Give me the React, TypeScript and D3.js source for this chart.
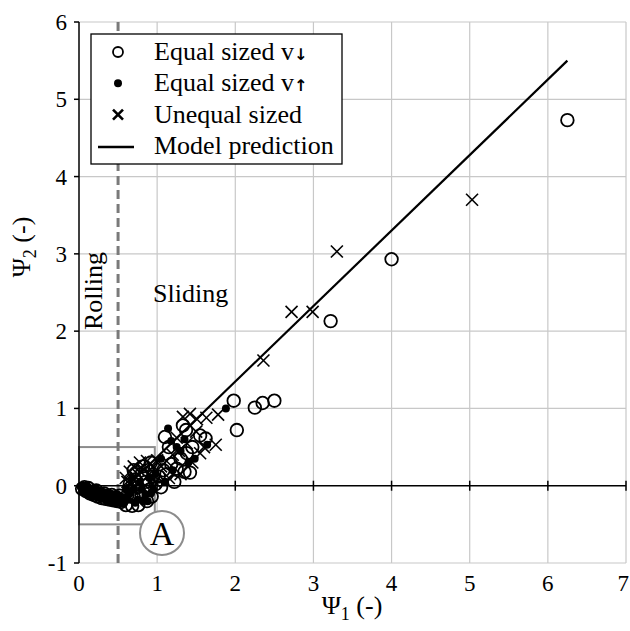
import React from "react";
import * as d3 from "d3";

const xTicks = [0, 1, 2, 3, 4, 5, 6, 7];
const yTicks = [-1, 0, 1, 2, 3, 4, 5, 6];

// Equal sized v↓ (open circles)
const equalDown: [number, number][] = [
  [6.25, 4.73], [4.0, 2.93], [3.22, 2.13], [1.98, 1.1], [2.25, 1.01], [2.35, 1.07], [2.5, 1.1], [2.02, 0.72],
  [1.02, 0.12], [1.08, 0.2], [1.12, 0.15], [1.18, 0.28], [1.25, 0.22], [1.3, 0.35], [1.35, 0.18], [1.42, 0.17],
  [1.38, 0.42], [1.45, 0.5], [1.1, 0.63], [1.15, 0.5], [1.33, 0.78], [1.37, 0.72], [1.55, 0.65], [1.62, 0.61],
  [1.22, 0.05], [1.05, -0.02],
  [0.6, -0.25], [0.68, -0.26], [0.76, -0.25], [0.87, -0.2], [0.93, -0.14], [0.62, -0.12], [0.7, -0.15], [0.8, -0.12],
  [0.9, -0.05], [0.65, 0.02], [0.72, 0.08], [0.8, 0.15], [0.88, 0.2], [0.95, 0.12], [0.75, -0.02], [0.85, 0.05],
  [0.98, 0.02], [0.7, 0.2], [0.82, 0.25], [0.92, 0.3],
  [0.04, -0.04], [0.09, -0.07], [0.14, -0.1], [0.19, -0.12], [0.24, -0.14], [0.29, -0.16], [0.34, -0.17],
  [0.39, -0.18], [0.44, -0.19], [0.49, -0.2], [0.54, -0.21], [0.12, -0.03], [0.22, -0.06], [0.32, -0.1],
  [0.42, -0.12], [0.52, -0.13], [0.07, -0.02], [0.17, -0.08], [0.27, -0.11], [0.37, -0.13], [0.47, -0.15],
];

// Equal sized v↑ (filled dots)
const equalUp: [number, number][] = [
  [1.88, 1.0], [1.14, 0.74], [1.18, 0.58], [1.25, 0.5], [1.3, 0.45], [1.4, 0.3], [1.05, 0.35], [1.2, 0.2],
  [1.35, 0.6], [1.64, 0.53], [1.48, 0.35], [1.1, 0.05],
  [0.6, -0.05], [0.65, -0.1], [0.7, -0.05], [0.75, -0.18], [0.8, -0.05], [0.85, -0.12], [0.9, 0.1], [0.95, -0.05],
  [0.68, 0.1], [0.78, 0.05], [0.88, -0.2], [0.98, 0.15], [0.63, -0.18], [0.72, -0.22], [0.82, -0.2], [0.92, -0.1],
  [0.02, -0.01], [0.05, -0.03], [0.08, -0.05], [0.1, -0.04], [0.12, -0.07], [0.15, -0.08], [0.17, -0.06],
  [0.2, -0.1], [0.22, -0.09], [0.25, -0.12], [0.28, -0.11], [0.3, -0.14], [0.33, -0.13], [0.36, -0.15],
  [0.39, -0.14], [0.42, -0.17], [0.45, -0.16], [0.48, -0.18], [0.51, -0.17], [0.54, -0.19], [0.57, -0.15], [0.6, -0.18],
  [0.04, -0.06], [0.11, -0.1], [0.18, -0.13], [0.26, -0.16], [0.34, -0.18], [0.41, -0.2], [0.49, -0.22], [0.56, -0.23],
  [0.07, 0.0], [0.14, -0.04], [0.23, -0.05], [0.31, -0.08], [0.4, -0.1], [0.5, -0.12],
  [0.06, -0.08], [0.13, -0.12], [0.21, -0.14], [0.29, -0.17], [0.37, -0.19], [0.45, -0.21], [0.53, -0.21],
  [0.1, -0.01], [0.19, -0.03], [0.27, -0.07], [0.35, -0.1], [0.44, -0.12], [0.53, -0.14],
];

// Unequal sized (crosses)
const unequal: [number, number][] = [
  [5.03, 3.7], [3.3, 3.03], [2.72, 2.25], [2.99, 2.25], [2.36, 1.62],
  [1.33, 0.89], [1.42, 0.93], [1.51, 0.86], [1.63, 0.88], [1.78, 0.92], [1.75, 0.53], [1.55, 0.42], [1.45, 0.3],
  [1.38, 0.55], [1.28, 0.45], [1.2, 0.4], [1.12, 0.32], [1.05, 0.25], [1.15, 0.1], [1.3, 0.15], [1.6, 0.5],
  [1.25, 0.62], [1.5, 0.7],
  [0.62, 0.05], [0.65, 0.18], [0.7, 0.25], [0.75, 0.15], [0.78, 0.3], [0.83, 0.2], [0.87, 0.32], [0.9, 0.15],
  [0.95, 0.25], [1.0, 0.33], [0.68, -0.05], [0.72, 0.0], [0.85, 0.0], [0.97, 0.05], [0.6, 0.1],
];

// Model prediction line
const model: [number, number][] = [[0.62, 0], [6.25, 5.5]];

const rollingX = 0.5;
const zoomBox = { x0: 0, x1: 0.97, y0: -0.5, y1: 0.5 };

const legendLabels = ["Equal sized v", "Equal sized v", "Unequal sized", "Model prediction"];
const legendArrows = ["↓", "↑", "", ""];

const FONT = "'Liberation Serif', 'Times New Roman', serif";

export default function App() {
  const x = d3.scaleLinear().domain([0, 7]).range([79, 626]);
  const y = d3.scaleLinear().domain([-1, 6]).range([563, 22]);
  const line = d3.line<[number, number]>().x((d) => x(d[0])).y((d) => y(d[1]));
  const grid = "#c8c8c8";
  const cs = 6;

  return (
    <svg width={630} height={631} style={{ position: "absolute", left: 0, top: 0, background: "#fff" }}
      fontFamily={FONT}>
      <rect x={0} y={0} width={630} height={631} fill="#fff" />
      {/* gridlines */}
      {xTicks.filter((t) => t > 0).map((t) => (
        <line key={"gx" + t} x1={x(t)} x2={x(t)} y1={y(6)} y2={y(-1)} stroke={grid} strokeWidth={1.2} />
      ))}
      {yTicks.filter((t) => t !== 0).map((t) => (
        <line key={"gy" + t} x1={x(0)} x2={x(7)} y1={y(t)} y2={y(t)} stroke={grid} strokeWidth={1.2} />
      ))}
      {/* zoom box */}
      <rect x={x(zoomBox.x0)} y={y(zoomBox.y1)} width={x(zoomBox.x1) - x(zoomBox.x0)}
        height={y(zoomBox.y0) - y(zoomBox.y1)} fill="none" stroke="#8c8c8c" strokeWidth={2} />
      {/* rolling/sliding boundary */}
      <line x1={x(rollingX)} x2={x(rollingX)} y1={y(6)} y2={y(-1)} stroke="#7a7a7a" strokeWidth={3}
        strokeDasharray="9,5" />
      {/* x axis at y=0 */}
      <line x1={x(0)} x2={x(7)} y1={y(0)} y2={y(0)} stroke="#000" strokeWidth={1.5} />
      {xTicks.filter((t) => t > 0).map((t) => (
        <line key={"tx" + t} x1={x(t)} x2={x(t)} y1={y(0) - 5} y2={y(0) + 5} stroke="#000" strokeWidth={1.5} />
      ))}
      {/* points */}
      {equalDown.map((d, i) => (
        <circle key={"o" + i} cx={x(d[0])} cy={y(d[1])} r={6.3} fill="none" stroke="#000" strokeWidth={1.8} />
      ))}
      {equalUp.map((d, i) => (
        <circle key={"f" + i} cx={x(d[0])} cy={y(d[1])} r={4} fill="#000" />
      ))}
      {unequal.map((d, i) => (
        <g key={"c" + i} stroke="#000" strokeWidth={1.6}>
          <line x1={x(d[0]) - cs} x2={x(d[0]) + cs} y1={y(d[1]) - cs} y2={y(d[1]) + cs} />
          <line x1={x(d[0]) - cs} x2={x(d[0]) + cs} y1={y(d[1]) + cs} y2={y(d[1]) - cs} />
        </g>
      ))}
      <path d={line(model) || ""} fill="none" stroke="#000" strokeWidth={2.2} />
      {/* y axis */}
      <line x1={x(0)} x2={x(0)} y1={y(6)} y2={y(-1)} stroke="#000" strokeWidth={1.5} />
      {yTicks.map((t) => (
        <g key={"ty" + t}>
          <line x1={x(0) - 5} x2={x(0)} y1={y(t)} y2={y(t)} stroke="#000" strokeWidth={1.5} />
          <text x={x(0) - 12} y={y(t)} dy="0.35em" textAnchor="end" fontSize={23}>{t}</text>
        </g>
      ))}
      {xTicks.map((t, i) => (
        <text key={"lx" + t} x={i === xTicks.length - 1 ? 629 : x(t)} y={y(-1) + 28}
          textAnchor={i === xTicks.length - 1 ? "end" : "middle"} fontSize={23}>{t}</text>
      ))}
      {/* axis titles */}
      <text x={352} y={614} textAnchor="middle" fontSize={26}>
        Ψ<tspan dy={6} fontSize={18}>1</tspan><tspan dy={-6}> (-)</tspan>
      </text>
      <text transform="translate(30,247) rotate(-90)" textAnchor="middle" fontSize={26}>
        Ψ<tspan dy={6} fontSize={18}>2</tspan><tspan dy={-6}> (-)</tspan>
      </text>
      {/* annotations */}
      <text transform={`translate(${x(rollingX) - 16},291) rotate(-90)`} textAnchor="middle" fontSize={26}>Rolling</text>
      <text x={153} y={302} fontSize={26}>Sliding</text>
      <circle cx={162} cy={533} r={22} fill="#fff" stroke="#8c8c8c" strokeWidth={2} />
      <text x={162} y={545} textAnchor="middle" fontSize={34}>A</text>
      {/* legend */}
      <rect x={91} y={34} width={251} height={130} fill="#fff" stroke="#000" strokeWidth={1.3} />
      {legendLabels.map((s, i) => {
        const cy = 51 + i * 31.3;
        return (
          <g key={"lg" + i}>
            {i === 0 && <circle cx={118} cy={cy + 1} r={5} fill="none" stroke="#000" strokeWidth={1.8} />}
            {i === 1 && <circle cx={118} cy={cy + 1} r={4} fill="#000" />}
            {i === 2 && (
              <g stroke="#000" strokeWidth={2.6}>
                <line x1={113} x2={123} y1={cy - 4} y2={cy + 6} />
                <line x1={113} x2={123} y1={cy + 6} y2={cy - 4} />
              </g>
            )}
            {i === 3 && <line x1={98} x2={134} y1={cy + 2} y2={cy + 2} stroke="#000" strokeWidth={2.5} />}
            <text x={154} y={cy + 9} fontSize={26}>
              {s}
              {legendArrows[i] && (
                <tspan fontFamily="'DejaVu Sans', sans-serif" fontWeight="bold" fontSize={16} fill="#000">
                  {legendArrows[i]}
                </tspan>
              )}
            </text>
          </g>
        );
      })}
    </svg>
  );
}
